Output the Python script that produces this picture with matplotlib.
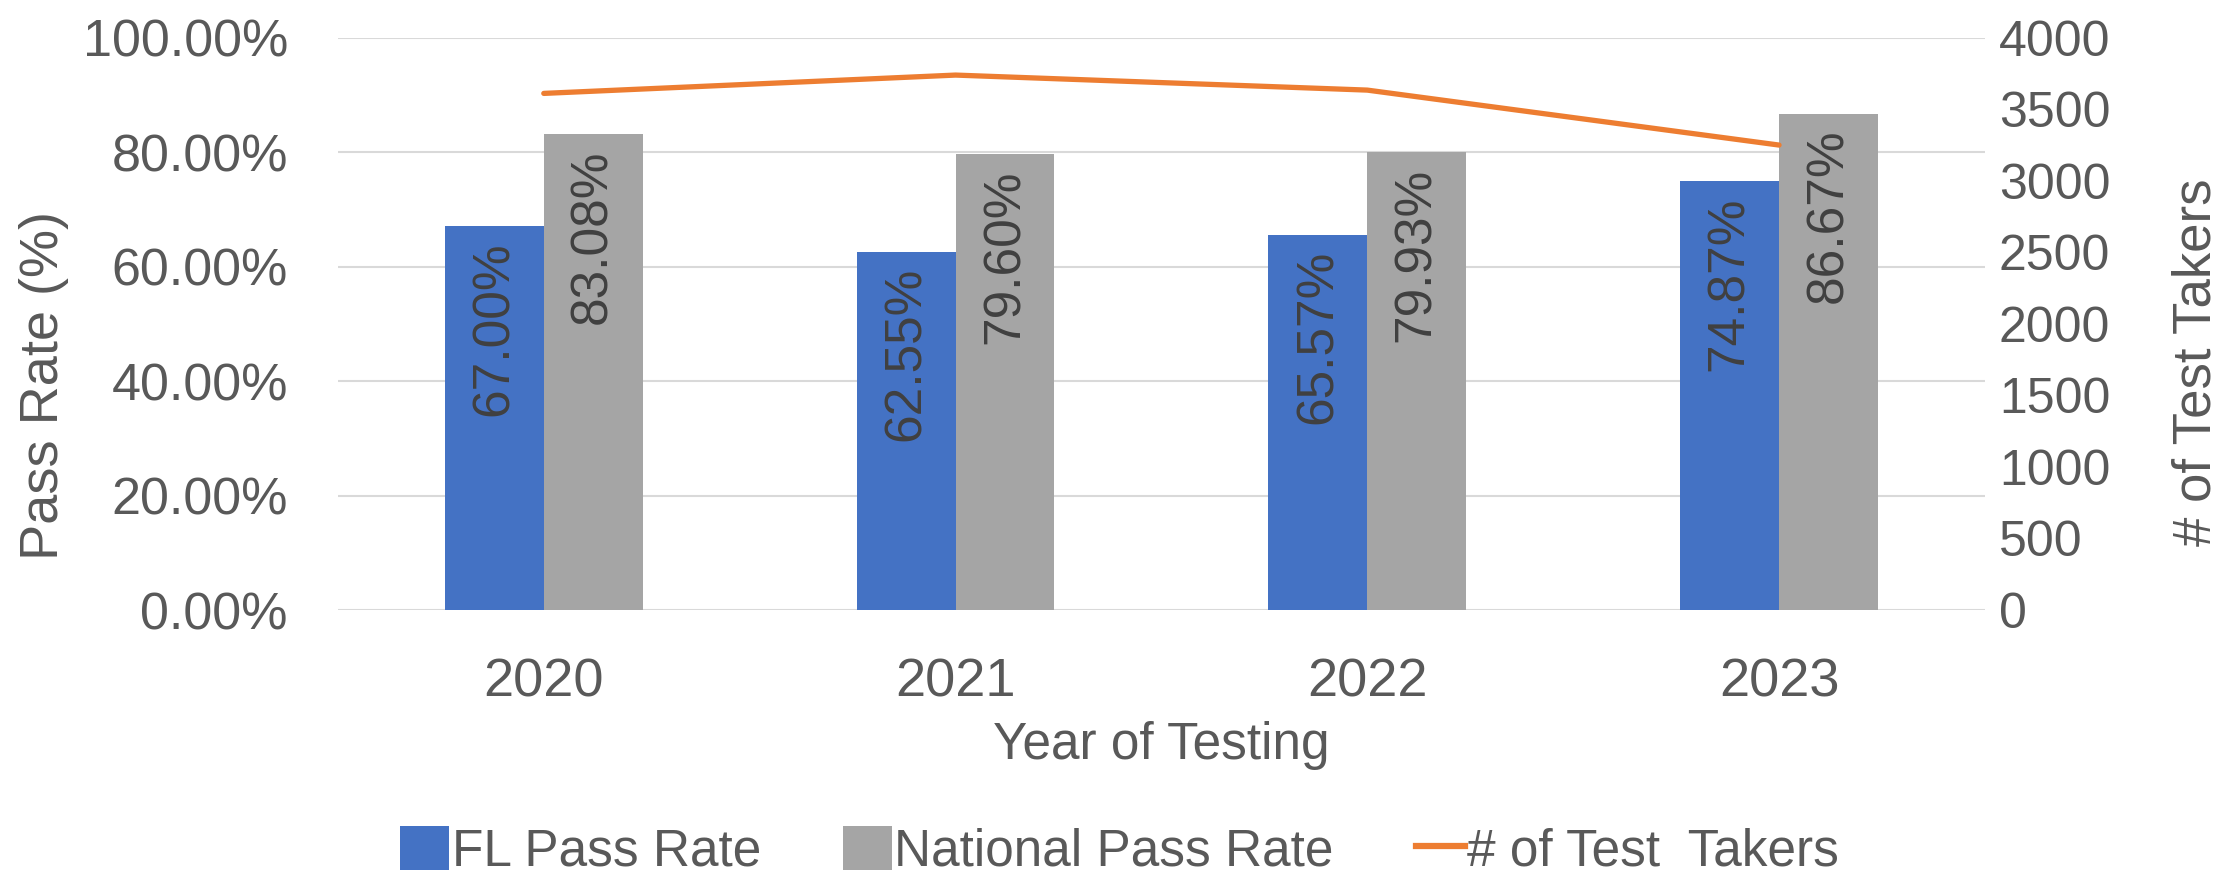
import matplotlib
matplotlib.use("Agg")
import matplotlib.pyplot as plt
import numpy as np
from matplotlib.lines import Line2D
from matplotlib.patches import Patch

years = ["2020", "2021", "2022", "2023"]
fl_rate = [67.00, 62.55, 65.57, 74.87]
national_rate = [83.08, 79.60, 79.93, 86.67]
test_takers = [3610, 3738, 3633, 3249]
left_ticks = [0, 20, 40, 60, 80, 100]
right_ticks = [0, 500, 1000, 1500, 2000, 2500, 3000, 3500, 4000]

BLUE = "#4472C4"
GRAY = "#A5A5A5"
ORANGE = "#ED7D31"
TXT = "#595959"

plt.rcParams['font.family'] = ['Liberation Sans', 'DejaVu Sans']

fig = plt.figure(figsize=(22.26, 8.74), dpi=100)
ax = fig.add_axes([0.1518, 0.302, 0.8917 - 0.1518, 0.957 - 0.302])
ax2 = ax.twinx()

x = np.arange(len(years))
w = 0.24
b1 = ax.bar(x - w / 2, fl_rate, w, color=BLUE, zorder=3)
b2 = ax.bar(x + w / 2, national_rate, w, color=GRAY, zorder=3)
for bars, vals in ((b1, fl_rate), (b2, national_rate)):
    for r, v in zip(bars, vals):
        ax.text(r.get_x() + r.get_width() / 2, v - 2.6, f"{v:.2f}%",
                rotation=90, ha="center", va="top", fontsize=37, color="#404040", zorder=4)

ax.set_ylim(0, 100)
ax.set_xlim(-0.5, 3.5)
ax.set_yticks(left_ticks)
ax.set_yticklabels([f"{t:.2f}%" for t in left_ticks])
ax.set_xticks(x)
ax.set_xticklabels(years)
ax.yaxis.grid(True, color="#D9D9D9", linewidth=1.5, zorder=0)
ax.set_axisbelow(True)
for s in ax.spines.values():
    s.set_visible(False)
for s in ax2.spines.values():
    s.set_visible(False)
ax.tick_params(axis="y", length=0, labelsize=37.5, colors=TXT, pad=36)
ax.tick_params(axis="x", length=0, labelsize=39, colors=TXT, pad=34)
ax.set_xlabel("Year of Testing", fontsize=37, color=TXT, labelpad=10)
ax.set_ylabel("Pass Rate (%)", fontsize=39, color=TXT)
ax.yaxis.set_label_coords(-0.163, 0.393)

ax2.plot(x, test_takers, color=ORANGE, linewidth=3.8, zorder=5, solid_capstyle="round")
ax2.set_ylim(0, 4000)
ax2.set_yticks(right_ticks)
ax2.tick_params(axis="y", length=0, labelsize=36, colors=TXT, pad=10)
ax2.set_ylabel("# of Test Takers", fontsize=38, color=TXT)
ax2.yaxis.set_label_coords(1.113, 0.433)

handles = [Patch(facecolor=BLUE), Patch(facecolor=GRAY),
           Line2D([0], [0], color=ORANGE, linewidth=4.5)]
labels = ["FL Pass Rate", "National Pass Rate", "# of Test  Takers"]
fig.legend(handles, labels, loc="center", bbox_to_anchor=(0.503, 0.026), ncol=3,
           frameon=False, labelcolor=TXT, handlelength=0.95, handleheight=0.95,
           handletextpad=0.05, columnspacing=1.6,
           prop={'family': ['Liberation Sans', 'DejaVu Sans'], 'size': 37})

fig.savefig("out.png", dpi=100)
